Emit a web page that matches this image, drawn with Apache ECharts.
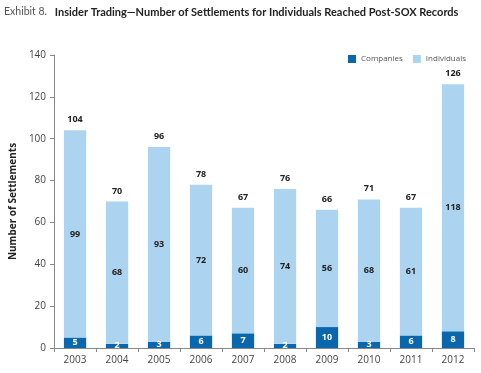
<!DOCTYPE html>
<html><head><meta charset="utf-8">
<script src="https://cdn.jsdelivr.net/npm/echarts@6/dist/echarts.min.js"></script>
<style>html,body{margin:0;padding:0;background:#fff}#c{width:481px;height:373px}</style>
</head><body><div id="c"></div>
<script>
var years = ['2003','2004','2005','2006','2007','2008','2009','2010','2011','2012'];
var companies = [5, 2, 3, 6, 7, 2, 10, 3, 6, 8];
var individuals = [99, 68, 93, 72, 60, 74, 56, 68, 61, 118];
var totals = [104, 70, 96, 78, 67, 76, 66, 71, 67, 126];
var yTicks = [0, 20, 40, 60, 80, 100, 120, 140];

var chart = echarts.init(document.getElementById('c'));
var font = 'Open Sans';
chart.setOption({
  animation: false,
  textStyle: {fontFamily: font},
  title: {
    left: 4, top: 3, padding: 0,
    text: '{a|Exhibit 8.} {b|Insider Trading\u2014Number of Settlements for Individuals Reached Post-SOX Records}',
    textStyle: {
      rich: {
        a: {fontFamily: 'Lato', fontSize: 10.5, color: '#555', fontWeight: 'normal', padding: [0, 3, 0, 0]},
        b: {fontFamily: 'Lato', fontSize: 11, color: '#222', fontWeight: 'bold'}
      }
    }
  },
  legend: {
    right: 10, top: 50, itemWidth: 8, itemHeight: 8, itemGap: 10,
    icon: 'rect',
    textStyle: {fontSize: 8, color: '#555', fontFamily: font},
    data: ['Companies', 'Individuals']
  },
  grid: {left: 43, right: 7, top: 55, bottom: 25},
  xAxis: {
    type: 'category', data: years,
    axisLine: {lineStyle: {color: '#888'}},
    axisTick: {show: true, length: 4, lineStyle: {color: '#888'}},
    axisLabel: {color: '#444', fontSize: 10, margin: 7}
  },
  yAxis: {
    type: 'value', min: 0, max: 140, interval: 20,
    name: 'Number of Settlements', nameLocation: 'middle', nameGap: 27,
    nameTextStyle: {fontWeight: 'bold', fontSize: 10, color: '#222'},
    axisLine: {show: true, lineStyle: {color: '#888'}},
    axisTick: {show: true, length: 4, lineStyle: {color: '#888'}},
    splitLine: {show: false},
    axisLabel: {color: '#444', fontSize: 10, margin: 8,
      formatter: function(v){ return yTicks.indexOf(v) >= 0 ? String(v) : ''; }}
  },
  series: [
    {
      name: 'Companies', type: 'bar', stack: 's', barWidth: '53%',
      data: companies,
      itemStyle: {color: '#0a67ad'},
      label: {show: true, position: 'inside', color: '#fff', fontWeight: 'bold', fontSize: 9}
    },
    {
      name: 'Individuals', type: 'bar', stack: 's',
      data: individuals,
      itemStyle: {color: '#acd4f0'},
      label: {show: true, position: 'inside', color: '#222', fontWeight: 'bold', fontSize: 9}
    },
    {
      name: 'Total', type: 'bar', stack: 's',
      data: totals.map(function(){ return 0; }),
      itemStyle: {color: 'transparent'},
      label: {show: true, position: 'top', distance: 6, color: '#222', fontWeight: 'bold', fontSize: 9,
        formatter: function(p){ return String(totals[p.dataIndex]); }},
      tooltip: {show: false}
    }
  ]
});
</script>
</body></html>
